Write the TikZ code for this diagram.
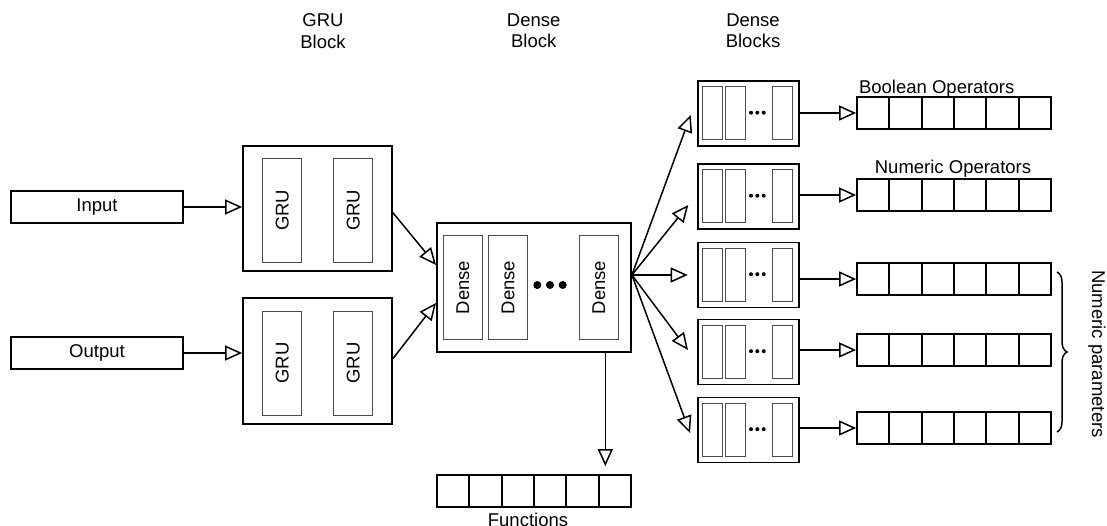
\documentclass[tikz,border=0pt]{standalone}
\usepackage{fontspec}
\setmainfont{Liberation Sans}
\usetikzlibrary{arrows.meta,calc,decorations.pathreplacing}
\tikzset{
  obox/.style n args={2}{draw,line width=1.8pt,inner sep=0pt,minimum width=#1,minimum height=#2},
  ibox/.style n args={2}{draw=black!70,line width=1pt,inner sep=0pt,minimum width=#1,minimum height=#2},
  cellrow/.style={draw,line width=1.8pt,inner sep=0pt,minimum width=194pt,minimum height=32pt,
    path picture={\foreach \k in {1,...,5}{\draw[line width=1.8pt]
      ($(path picture bounding box.south west)!\k/6!(path picture bounding box.south east)$) --
      ($(path picture bounding box.north west)!\k/6!(path picture bounding box.north east)$);}}},
  arr/.style={line width=1.5pt,-{Triangle[open,length=17pt,width=15pt,line width=1.5pt]}},
  lbl/.style={inner sep=0pt,align=center},
}
\begin{document}
\begin{tikzpicture}[x=1pt,y=-1pt,font=\fontsize{18.5}{21.7}\selectfont]
\useasboundingbox (0,0) rectangle (1107,526);

% top labels
\node[lbl] (lgru) at (323,30.8) {GRU\\Block};
\node[lbl] (ldense) at (533.7,30.8) {Dense\\Block};
\node[lbl] (ldenses) at (753,30.8) {Dense\\Blocks};

% inputs
\node[obox={172pt}{32pt}] (input) at (97,207) {Input};
\node[obox={172pt}{32pt}] (output) at (97,353) {Output};

% GRU blocks
\node[obox={149pt}{125pt}] (gru1) at (317.5,208.5) {};
\node[ibox={39pt}{104pt}] (g11) at (282.3,210.3) {\rotatebox{90}{GRU}};
\node[ibox={39pt}{104pt}] (g12) at (353.3,210.3) {\rotatebox{90}{GRU}};
\node[obox={149pt}{126pt}] (gru2) at (317.5,361) {};
\node[ibox={39pt}{104pt}] (g21) at (282.3,363) {\rotatebox{90}{GRU}};
\node[ibox={39pt}{104pt}] (g22) at (353.3,363) {\rotatebox{90}{GRU}};

\draw[arr] (input.east) -- (input.east -| gru1.west);
\draw[arr] (output.east) -- (output.east -| gru2.west);

% Dense block
\node[obox={194pt}{129pt}] (dense) at (534,287.5) {};
\node[ibox={39pt}{103pt}] (d1) at (462.8,287.5) {\rotatebox{90}{Dense}};
\node[ibox={39pt}{103pt}] (d2) at (508.2,287.5) {\rotatebox{90}{Dense}};
\node[ibox={39pt}{103pt}] (d3) at (598.8,287.5) {\rotatebox{90}{Dense}};
\foreach \dx in {537.3,550,562.7} \fill (\dx,285) circle (4pt);

\coordinate (g1t) at (436,265);
\coordinate (g2t) at (436,303);
\draw[arr] ([yshift=-4.2pt]gru1.east) -- (g1t);
\draw[arr] ([yshift=2.3pt]gru2.east) -- (g2t);

% Functions
\node[cellrow] (fun) at (534,491) {};
\node[inner sep=0pt,anchor=base] (funl) at (528,526.5) {Functions};
\draw[arr,shorten >=8pt] ([xshift=71.3pt]dense.south) -- ([xshift=71.3pt]fun.north);

% fan of arrows
\coordinate (fan) at ([yshift=12.5pt]dense.east);
\coordinate (t1) at (690.7,115);
\coordinate (t2) at (688.3,205);
\coordinate (t3) at (687.7,275);
\coordinate (t4) at (688,350);
\coordinate (t5) at (690,433);
\foreach \i in {1,...,5} \draw[arr] (fan) -- (t\i);

% small dense blocks and output arrays
\foreach \i/\y/\ay in {1/113.5/113,2/196.5/195,3/275/279,4/352/350,5/430/428}{
  \node[obox={101pt}{65pt}] (sb\i) at (748.5,\y) {};
  \node[ibox={20.5pt}{53pt}] (sb\i a) at (712.5,\y) {};
  \node[ibox={20.5pt}{53pt}] (sb\i b) at (735.5,\y) {};
  \node[ibox={20.5pt}{53pt}] (sb\i c) at (782.5,\y) {};
  \foreach \dx in {751,757.3,763.7} \fill (\dx,\y-0.8) circle (2pt);
  \node[cellrow] (ar\i) at (954,\ay) {};
  \draw[arr] (sb\i.east |- ar\i.west) -- (ar\i.west);
}

\node[inner sep=0pt,anchor=base] (bool) at (936.7,93.3) {Boolean Operators};
\node[inner sep=0pt,anchor=base] (numop) at (953,173.3) {Numeric Operators};

% brace
\draw[line width=1.5pt,decorate,decoration={brace,amplitude=10pt}] (1057,272) -- (1057,432);
\node[inner sep=0pt,rotate=-90] (nump) at (1097,354) {Numeric parameters};
\end{tikzpicture}
\end{document}
